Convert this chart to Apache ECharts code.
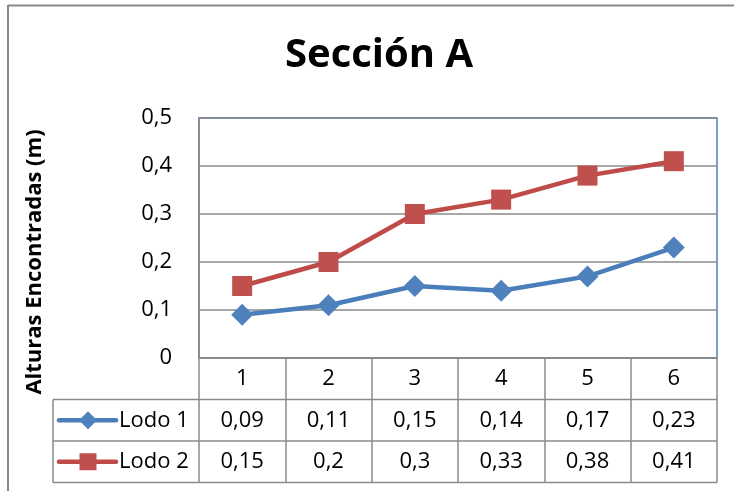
<!DOCTYPE html>
<html>
<head>
<meta charset="utf-8">
<script src="https://cdn.jsdelivr.net/npm/echarts@6/dist/echarts.min.js"></script>
<style>
  html, body { margin: 0; padding: 0; background: #fff; }
  #chart { width: 734px; height: 491px; }
</style>
</head>
<body>
<div id="chart"></div>
<script>
// Categories and the two series of measured heights (m)
const categories = ['1', '2', '3', '4', '5', '6'];
const lodo1 = [0.09, 0.11, 0.15, 0.14, 0.17, 0.23];
const lodo2 = [0.15, 0.2, 0.3, 0.33, 0.38, 0.41];
const seriesNames = ['Lodo 1', 'Lodo 2'];
const yTicks = [0, 0.1, 0.2, 0.3, 0.4, 0.5];
const yTitle = 'Alturas Encontradas (m)';

const FONT = "'Open Sans', 'Noto Sans', sans-serif";
const GRID = { left: 199, right: 17, top: 118, bottom: 133 };
const ROW_H = 41.5;
const TABLE_LEFT = 53;
const GRAY = '#8a8a8a';
const BLUE_LINE = '#4a7ebb', BLUE_MARK = '#4f81bd';
const RED_LINE = '#be4b48', RED_MARK = '#c0504d';

const fmt = v => String(v).replace('.', ',');

const chart = echarts.init(document.getElementById('chart'), null, { renderer: 'canvas' });

// Row axes: each one prints a series' values in its row of the data table
function rowAxis(values, row) {
  return {
    type: 'category',
    gridIndex: 0,
    position: 'bottom',
    offset: ROW_H * row,
    data: values.map(fmt),
    axisLine: { show: false },
    axisTick: { show: false },
    axisLabel: { margin: 10, fontFamily: FONT, fontSize: 22, color: '#000', interval: 0 }
  };
}

const option = {
  animation: false,
  backgroundColor: '#fff',
  title: {
    text: 'Sección A',
    left: 374,
    top: 31,
    textAlign: 'center',
    textStyle: { fontFamily: FONT, fontSize: 40, fontWeight: 'bold', color: '#000' }
  },
  grid: Object.assign({ show: true, borderColor: BLUE_MARK, borderWidth: 1.5, backgroundColor: 'transparent' }, GRID),
  xAxis: [
    {
      type: 'category',
      data: categories,
      boundaryGap: true,
      axisLine: { lineStyle: { color: GRAY, width: 1.5 } },
      axisTick: { show: true, length: ROW_H * 3, interval: 0, lineStyle: { color: GRAY, width: 1.5 } },
      axisLabel: { margin: 10, fontFamily: FONT, fontSize: 22, color: '#000', interval: 0 }
    },
    rowAxis(lodo1, 1),
    rowAxis(lodo2, 2)
  ],
  yAxis: {
    type: 'value',
    min: yTicks[0],
    max: yTicks[yTicks.length - 1],
    interval: 0.1,
    axisLine: { show: true, lineStyle: { color: GRAY, width: 1.5 } },
    axisTick: { show: false },
    splitLine: { lineStyle: { color: GRAY, width: 1.5 } },
    axisLabel: {
      margin: 27,
      fontFamily: FONT, fontSize: 22, color: '#000',
      formatter: v => v === 0 ? '0' : v.toFixed(1).replace('.', ',')
    }
  },
  series: [
    {
      name: seriesNames[0], type: 'line', data: lodo1,
      symbol: 'diamond', symbolSize: 22,
      lineStyle: { color: BLUE_LINE, width: 4.5 },
      itemStyle: { color: BLUE_MARK, borderWidth: 0 }
    },
    {
      name: seriesNames[1], type: 'line', data: lodo2,
      symbol: 'rect', symbolSize: 20,
      lineStyle: { color: RED_LINE, width: 4.5 },
      itemStyle: { color: RED_MARK, borderWidth: 0 }
    }
  ]
};

chart.setOption(option);

// Table rules, legend keys and the vertical axis title, positioned from the grid
const W = 734, H = 491;
const axisY = H - GRID.bottom;
const plotRight = W - GRID.right;
const graphics = [];
const hline = (x1, x2, y) => ({
  type: 'line', silent: true,
  shape: { x1, y1: y, x2, y2: y },
  style: { stroke: GRAY, lineWidth: 1.5 }
});
for (let r = 1; r <= 3; r++) graphics.push(hline(TABLE_LEFT, plotRight, axisY + ROW_H * r));
graphics.push({
  type: 'line', silent: true,
  shape: { x1: TABLE_LEFT, y1: axisY + ROW_H, x2: TABLE_LEFT, y2: axisY + ROW_H * 3 },
  style: { stroke: GRAY, lineWidth: 1.5 }
});

// Outer chart frame
graphics.push({ type: 'line', silent: true, shape: { x1: 8, y1: 5.5, x2: W, y2: 5.5 }, style: { stroke: GRAY, lineWidth: 2 } });
graphics.push({ type: 'line', silent: true, shape: { x1: 8, y1: 5, x2: 8, y2: H }, style: { stroke: GRAY, lineWidth: 2 } });

// Vertical axis title, centred over the plot plus the category row
graphics.push({
  type: 'text', silent: true,
  x: 35, y: 262, rotation: Math.PI / 2,
  style: { text: yTitle, fontFamily: FONT, fontSize: 22, fontWeight: 'bold', fill: '#000', align: 'center', verticalAlign: 'middle' }
});

// Legend keys inside the table
const keys = [
  { line: BLUE_LINE, mark: BLUE_MARK, shape: 'diamond' },
  { line: RED_LINE, mark: RED_MARK, shape: 'rect' }
];
keys.forEach((k, i) => {
  const cy = axisY + ROW_H * (i + 1) + ROW_H / 2;
  const x1 = 59, x2 = 116, cx = 88;
  graphics.push({ type: 'line', silent: true, shape: { x1, y1: cy, x2, y2: cy }, style: { stroke: k.line, lineWidth: 4.5, lineCap: 'round' } });
  if (k.shape === 'diamond') {
    graphics.push({ type: 'polygon', silent: true, shape: { points: [[cx, cy - 9], [cx + 9, cy], [cx, cy + 9], [cx - 9, cy]] }, style: { fill: k.mark } });
  } else {
    graphics.push({ type: 'rect', silent: true, shape: { x: cx - 8.5, y: cy - 8.5, width: 17, height: 17 }, style: { fill: k.mark } });
  }
  graphics.push({
    type: 'text', silent: true,
    style: { text: seriesNames[i], x: 119, y: cy, fontFamily: FONT, fontSize: 22, fill: '#000', verticalAlign: 'middle' }
  });
});

chart.setOption({ graphic: graphics });
</script>
</body>
</html>
